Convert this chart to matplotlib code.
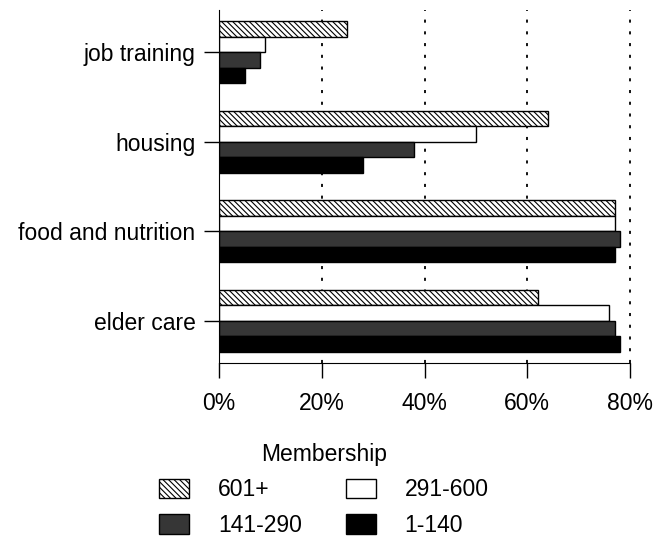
import numpy as np
import matplotlib
matplotlib.use("Agg")
import matplotlib.pyplot as plt

plt.rcParams['font.family'] = ['Liberation Sans', 'DejaVu Sans']
plt.rcParams['hatch.linewidth'] = 0.8

categories = ["job training", "housing", "food and nutrition", "elder care"]
series = ["601+", "291-600", "141-290", "1-140"]
v_601 = [25, 64, 77, 62]
v_291 = [9, 50, 77, 76]
v_141 = [8, 38, 78, 77]
v_1 = [5, 28, 77, 78]
values = [v_601, v_291, v_141, v_1]
xticks = [0, 20, 40, 60, 80]

styles = [
    dict(facecolor="white", hatch="\\\\\\\\\\\\"),
    dict(facecolor="white"),
    dict(facecolor="#363636"),
    dict(facecolor="black"),
]

fig = plt.figure(figsize=(6.65, 5.45), dpi=100)
ax = fig.add_axes([219 / 665, 1 - 363 / 545, 411 / 665, 353 / 545])

y = np.arange(len(categories))
h = 0.173
bars = []
for i, (name, vals) in enumerate(zip(series, values)):
    b = ax.barh(y + (i - 1.5) * h, vals, height=h, edgecolor="black",
                linewidth=1.0, label=name, **styles[i])
    bars.append(b)

ax.set_xlim(0, 80)
ax.set_ylim(3.47, -0.47)
ax.set_yticks(y)
ax.set_yticklabels(categories, fontsize=16.5)
ax.set_xticks(xticks)
ax.set_xticklabels([f"{t}%" for t in xticks], fontsize=16.5)
ax.tick_params(axis="y", length=11, width=1, pad=6)
ax.tick_params(axis="x", length=11, width=1, pad=10)

ax.spines["top"].set_visible(False)
ax.spines["right"].set_visible(False)
ax.xaxis.grid(True, color="black", linestyle=(0, (1.7, 4.8)), linewidth=1.3)
# keep the 80% line whole at the right edge, drop the one on the axis
gridlines = ax.get_xgridlines()
gridlines[0].set_visible(False)
gridlines[-1].set_clip_on(False)
ax.set_axisbelow(True)

handles = [bars[0], bars[2], bars[1], bars[3]]
labels = [series[0], series[2], series[1], series[3]]
leg = fig.legend(handles, labels, ncol=2, title="Membership", frameon=False,
                 loc="upper center", bbox_to_anchor=(324 / 665, 1 - 422 / 545),
                 fontsize=16.5, title_fontsize=16.5, handlelength=1.3,
                 handleheight=0.92, handletextpad=1.27, columnspacing=1.9,
                 labelspacing=0.55)

fig.savefig("out.png", dpi=100)
